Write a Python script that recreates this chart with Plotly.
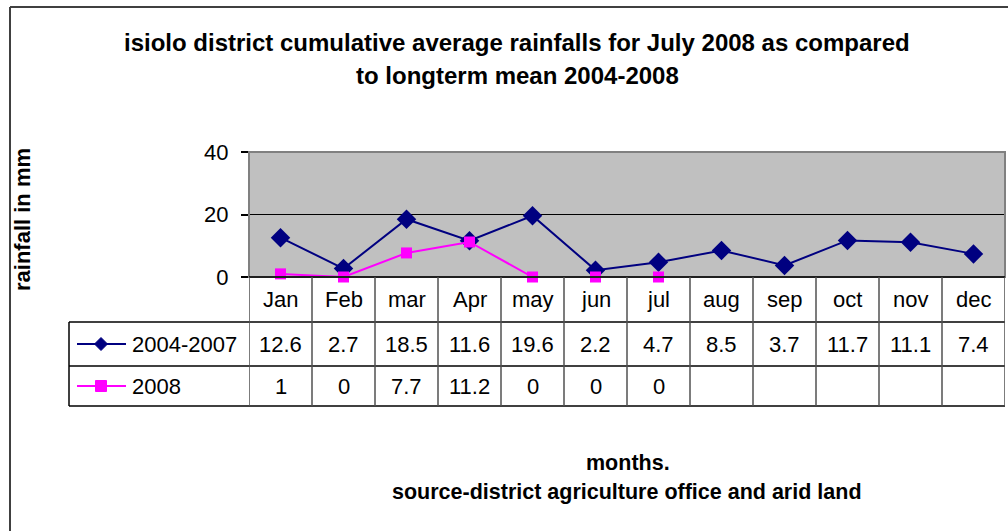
import plotly.graph_objects as go

months = ["Jan", "Feb", "mar", "Apr", "may", "jun", "jul", "aug", "sep", "oct", "nov", "dec"]
series_names = ["2004-2007", "2008"]
mean_2004_2007 = [12.6, 2.7, 18.5, 11.6, 19.6, 2.2, 4.7, 8.5, 3.7, 11.7, 11.1, 7.4]
rain_2008 = [1, 0, 7.7, 11.2, 0, 0, 0, None, None, None, None, None]
y_ticks = [0, 20, 40]

W, H = 1008, 531
L, R, T, B = 249, 1005, 152, 277
NAVY = "#000080"
MAG = "#FF00FF"
FONT = "Arial, Liberation Sans, sans-serif"


def px(x):
    return (x - L) / (R - L)


def py(y):
    return (B - y) / (B - T)


fig = go.Figure()
fig.add_trace(go.Scatter(x=months, y=mean_2004_2007, mode="lines+markers", name=series_names[0],
                         line=dict(color=NAVY, width=2),
                         marker=dict(symbol="diamond", size=15, color=NAVY), cliponaxis=False))
fig.add_trace(go.Scatter(x=months, y=rain_2008, mode="lines+markers", name=series_names[1],
                         line=dict(color=MAG, width=2),
                         marker=dict(symbol="square", size=11, color=MAG), cliponaxis=False))

shapes = []
# outer frame (top and left visible)
shapes.append(dict(type="line", xref="paper", yref="paper", x0=px(10), x1=px(1010), y0=py(7), y1=py(7),
                   line=dict(color="#404040", width=2)))
shapes.append(dict(type="line", xref="paper", yref="paper", x0=px(10), x1=px(10), y0=py(7), y1=py(532),
                   line=dict(color="#404040", width=2)))
# plot area border
shapes.append(dict(type="rect", xref="paper", yref="paper", x0=0, x1=1, y0=0, y1=1,
                   line=dict(color="#808080", width=2)))

row_y = [277, 322, 366, 406]
shapes.append(dict(type="line", xref="paper", yref="paper", x0=0, x1=1, y0=py(277), y1=py(277),
                   line=dict(color="black", width=1.5)))
for yy in row_y[1:]:
    shapes.append(dict(type="line", xref="paper", yref="paper", x0=px(69), x1=1, y0=py(yy), y1=py(yy),
                       line=dict(color="black", width=1.5)))
shapes.append(dict(type="line", xref="paper", yref="paper", x0=px(69), x1=px(69), y0=py(322), y1=py(406),
                   line=dict(color="black", width=1.5)))
for i in range(len(months) + 1):
    shapes.append(dict(type="line", xref="x", yref="paper", x0=i - 0.5, x1=i - 0.5, y0=py(277), y1=py(406),
                       line=dict(color="#505050", width=1.5)))


def diamond(cx, cy, r):
    return f"M {px(cx - r)} {py(cy)} L {px(cx)} {py(cy - r)} L {px(cx + r)} {py(cy)} L {px(cx)} {py(cy + r)} Z"


def square(cx, cy, r):
    return f"M {px(cx - r)} {py(cy - r)} L {px(cx + r)} {py(cy - r)} L {px(cx + r)} {py(cy + r)} L {px(cx - r)} {py(cy + r)} Z"


for cy, col, shp in [(344, NAVY, diamond), (386, MAG, square)]:
    shapes.append(dict(type="line", xref="paper", yref="paper", x0=px(77), x1=px(126), y0=py(cy), y1=py(cy),
                       line=dict(color=col, width=2)))
    shapes.append(dict(type="path", xref="paper", yref="paper", path=shp(101, cy, 6.5 if shp is diamond else 5.5),
                       fillcolor=col, line=dict(color=col, width=1)))

annotations = []
tf = dict(family=FONT, size=22, color="black")
for i, m in enumerate(months):
    annotations.append(dict(x=m, y=py(299), xref="x", yref="paper", text=m, showarrow=False, font=tf,
                            xanchor="center", yanchor="middle"))
    v1 = mean_2004_2007[i]
    annotations.append(dict(x=m, y=py(344), xref="x", yref="paper", text=f"{v1:g}", showarrow=False, font=tf,
                            xanchor="center", yanchor="middle"))
    v2 = rain_2008[i]
    if v2 is not None:
        annotations.append(dict(x=m, y=py(386), xref="x", yref="paper", text=f"{v2:g}", showarrow=False, font=tf,
                                xanchor="center", yanchor="middle"))
for cy, name in [(344, series_names[0]), (386, series_names[1])]:
    annotations.append(dict(x=px(130), y=py(cy), xref="paper", yref="paper", text=name, showarrow=False, font=tf,
                            xanchor="left", yanchor="middle"))

bf = dict(family=FONT, size=24, color="black")
annotations.append(dict(x=px(517), y=py(42), xref="paper", yref="paper", showarrow=False, font=bf,
                        text="<b>isiolo district cumulative average rainfalls for July 2008 as compared</b>",
                        xanchor="center", yanchor="middle"))
annotations.append(dict(x=px(517), y=py(76), xref="paper", yref="paper", showarrow=False, font=bf,
                        text="<b>to longterm mean 2004-2008</b>", xanchor="center", yanchor="middle"))
sf = dict(family=FONT, size=21.5, color="black")
annotations.append(dict(x=px(628), y=py(463), xref="paper", yref="paper", showarrow=False, font=sf,
                        text="<b>months.</b>", xanchor="center", yanchor="middle"))
annotations.append(dict(x=px(627), y=py(492), xref="paper", yref="paper", showarrow=False, font=sf,
                        text="<b>source-district agriculture office and arid land</b>", xanchor="center", yanchor="middle"))
annotations.append(dict(x=px(22), y=py(219), xref="paper", yref="paper", showarrow=False,
                        font=dict(family=FONT, size=22, color="black"), textangle=-90,
                        text="<b>rainfall in mm</b>", xanchor="center", yanchor="middle"))

fig.update_layout(
    width=W, height=H,
    margin=dict(l=L, r=W - R, t=T, b=H - B, pad=0),
    paper_bgcolor="white", plot_bgcolor="#C0C0C0",
    showlegend=False,
    shapes=shapes, annotations=annotations,
    xaxis=dict(type="category", range=[-0.5, 11.5], showticklabels=False, showgrid=False,
               zeroline=False, showline=False, ticks=""),
    yaxis=dict(range=[0, 40], tickvals=y_ticks, showgrid=True, gridcolor="black", gridwidth=1,
               zeroline=False, showline=False, ticks="outside", ticklen=7, tickcolor="black",
               tickwidth=1.5, tickfont=dict(family=FONT, size=22, color="black"), ticklabelstandoff=8),
)

fig.write_html("out.html", config={"displayModeBar": False},
               post_script="document.body.style.margin='0';document.body.style.overflow='hidden';")
